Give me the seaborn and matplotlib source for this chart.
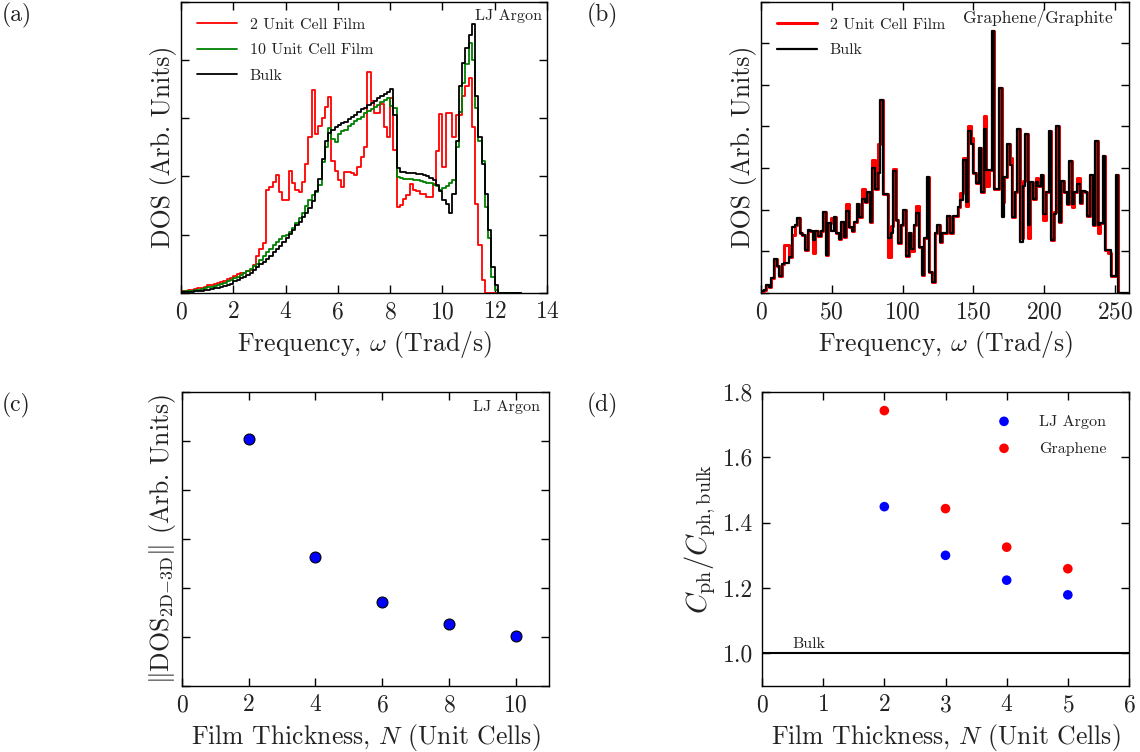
import numpy as np
import pandas as pd
import matplotlib
matplotlib.use("Agg")
import matplotlib.pyplot as plt
import seaborn as sns

# ---------------- data ----------------
# (a) LJ argon DOS, bin width 0.125 Trad/s starting at 0
argon_bin_width = 0.125
argon_film2 = [0.03, 0.04, 0.05, 0.06, 0.07, 0.08, 0.09, 0.11, 0.13, 0.14,
               0.15, 0.17, 0.19, 0.21, 0.24, 0.25, 0.30, 0.33, 0.34, 0.35,
               0.37, 0.40, 0.48, 0.63, 0.75, 0.85, 1.76, 1.81, 1.90, 2.03,
               1.73, 1.59, 1.59, 2.10, 1.89, 1.77, 1.73, 1.90, 2.22, 2.67,
               3.49, 2.73, 2.87, 3.01, 3.19, 3.36, 2.27, 2.09, 1.93, 1.82,
               2.07, 2.07, 2.05, 2.02, 2.16, 2.33, 2.50, 3.79, 3.29, 3.09,
               3.09, 3.25, 2.84, 2.67, 3.35, 2.45, 1.48, 1.51, 1.62, 1.68,
               1.87, 1.77, 1.75, 1.70, 1.70, 1.65, 1.65, 1.87, 2.44, 3.07,
               2.16, 3.09, 3.09, 2.67, 3.05, 3.05, 3.38, 3.55, 3.69, 2.84,
               1.53, 0.82, 0.23, 0.00, 0.00, 0.00, 0.00]
argon_film10 = [0.02, 0.03, 0.03, 0.04, 0.05, 0.06, 0.07, 0.08, 0.10, 0.11,
                0.12, 0.14, 0.16, 0.18, 0.20, 0.22, 0.25, 0.28, 0.31, 0.34,
                0.38, 0.42, 0.46, 0.50, 0.56, 0.63, 0.70, 0.76, 0.82, 0.88,
                0.93, 0.97, 1.00, 1.05, 1.12, 1.20, 1.28, 1.38, 1.50, 1.60,
                1.68, 1.73, 1.85, 2.25, 2.50, 2.83, 2.64, 2.59, 2.72, 2.78,
                2.80, 2.86, 2.90, 2.95, 2.98, 3.02, 3.08, 3.12, 3.16, 3.19,
                3.23, 3.27, 3.31, 3.35, 3.20, 3.18, 1.99, 1.97, 1.96, 1.95,
                1.95, 1.94, 1.93, 1.92, 1.90, 1.89, 1.88, 1.86, 1.83, 1.76,
                1.80, 1.84, 1.88, 1.93, 2.50, 3.10, 3.61, 3.92, 4.29, 4.00,
                3.18, 2.61, 2.27, 1.48, 0.94, 0.28, 0.06]
argon_bulk = [0.01, 0.01, 0.02, 0.02, 0.03, 0.04, 0.04, 0.05, 0.06, 0.07,
              0.08, 0.09, 0.10, 0.12, 0.13, 0.15, 0.20, 0.23, 0.26, 0.28,
              0.31, 0.35, 0.40, 0.45, 0.49, 0.54, 0.59, 0.63, 0.70, 0.76,
              0.81, 0.87, 0.94, 1.01, 1.08, 1.16, 1.22, 1.30, 1.38, 1.46,
              1.58, 1.75, 1.95, 2.30, 2.60, 2.75, 2.79, 2.84, 2.88, 2.91,
              2.94, 2.98, 3.02, 3.06, 3.10, 3.15, 3.18, 3.22, 3.26, 3.30,
              3.34, 3.38, 3.42, 3.45, 3.50, 3.05, 2.15, 2.07, 2.07, 2.06,
              2.06, 2.05, 2.04, 2.04, 2.02, 2.00, 1.97, 1.93, 1.86, 1.75,
              1.60, 1.52, 1.38, 1.70, 2.60, 3.55, 3.95, 4.20, 4.43, 4.62,
              3.38, 2.67, 2.22, 1.70, 1.08, 0.45, 0.14]
argon_freq_max = 13.0

# (b) graphene / graphite DOS, bin width 1.83 Trad/s starting at 0
graphene_bin_width = 1.83
graphene_bulk = [0.05, 0.08, 0.20, 0.15, 0.36, 0.81, 0.64, 0.42, 0.69, 0.71,
                 0.71, 0.87, 1.59, 1.63, 1.79, 1.43, 1.40, 1.03, 1.52, 1.50,
                 1.27, 1.50, 1.36, 1.50, 1.94, 0.91, 1.67, 1.50, 1.82, 1.43,
                 1.30, 1.70, 1.34, 1.98, 1.59, 1.50, 1.70, 2.13, 1.82, 2.26,
                 2.18, 2.42, 1.70, 3.01, 2.50, 2.89, 4.64, 2.38, 2.38, 1.31,
                 1.43, 2.94, 1.75, 1.21, 1.64, 2.00, 0.90, 1.43, 1.06, 1.64,
                 1.92, 1.10, 0.43, 1.31, 2.78, 0.51, 0.27, 1.44, 1.63, 1.23,
                 1.43, 1.43, 1.84, 1.44, 1.84, 1.84, 2.06, 2.24, 3.19, 2.19,
                 3.89, 3.57, 2.87, 2.65, 3.49, 2.42, 3.93, 2.96, 2.96, 6.29,
                 2.50, 2.50, 4.92, 1.83, 2.78, 3.57, 3.08, 1.83, 2.42, 3.93,
                 1.23, 2.56, 3.81, 1.64, 2.67, 2.26, 2.67, 2.56, 2.84, 1.90,
                 2.42, 3.89, 1.27, 1.90, 4.00, 1.70, 2.70, 2.42, 2.13, 3.17,
                 2.13, 2.42, 2.62, 2.15, 2.46, 2.42, 1.84, 2.84, 1.63, 3.65,
                 1.63, 1.67, 3.29, 1.03, 1.03, 0.40, 0.40, 2.84, 0.00, 0.00,
                 0.00, 0.00, 0.00]
graphene_film2 = [0.05, 0.08, 0.20, 0.15, 0.36, 0.81, 0.64, 0.42, 0.69, 1.15,
                  1.15, 0.87, 1.40, 1.63, 1.79, 1.43, 1.40, 1.03, 1.52, 1.50,
                  0.95, 1.50, 1.36, 1.50, 1.94, 0.91, 1.67, 1.79, 1.82, 1.43,
                  1.30, 1.70, 1.34, 2.14, 1.59, 1.50, 1.70, 2.13, 1.82, 2.49,
                  2.18, 2.42, 1.70, 3.19, 2.50, 3.57, 4.64, 2.38, 2.38, 0.87,
                  1.60, 2.98, 1.75, 1.21, 1.64, 2.00, 0.90, 1.43, 1.00, 1.64,
                  2.08, 1.10, 0.43, 1.31, 2.78, 0.51, 0.27, 1.44, 1.63, 1.23,
                  1.43, 1.43, 1.84, 1.44, 1.84, 1.84, 2.06, 2.40, 3.25, 2.10,
                  4.00, 3.73, 2.87, 2.65, 3.49, 2.42, 4.25, 2.58, 2.96, 6.29,
                  2.50, 2.50, 4.92, 2.18, 2.78, 3.57, 3.24, 1.83, 2.42, 3.93,
                  1.31, 2.70, 3.81, 1.31, 2.67, 2.26, 2.76, 2.56, 2.84, 1.75,
                  2.42, 3.89, 1.27, 1.94, 4.00, 1.70, 2.70, 2.42, 2.13, 3.17,
                  2.06, 2.42, 2.76, 2.15, 2.46, 2.42, 1.84, 2.84, 1.63, 3.65,
                  1.43, 1.67, 3.29, 1.03, 0.95, 0.40, 0.40, 2.84, 0.00, 0.00,
                  0.00, 0.00, 0.00]

# (c) norm of the 2D-3D DOS difference against film thickness
norm_thickness = [2, 4, 6, 8, 10]
norm_dos_diff = [5.04, 2.63, 1.72, 1.27, 1.02]

# (d) phonon heat capacity relative to bulk
cph_thickness = [2, 3, 4, 5]
cph_argon = [1.449, 1.300, 1.224, 1.179]
cph_graphene = [1.743, 1.443, 1.325, 1.259]

# ---------------- style ----------------
sns.set_style("ticks", {"xtick.direction": "in", "ytick.direction": "in"})
TEXT_C = "#222222"
plt.rcParams.update({
    "font.family": ["cmr10", "DejaVu Serif"],
    "mathtext.fontset": "cm",
    "axes.formatter.use_mathtext": True,
    "axes.unicode_minus": False,
    "axes.edgecolor": "black",
    "axes.linewidth": 1.0,
    "text.color": TEXT_C,
    "axes.labelcolor": TEXT_C,
    "xtick.color": "black",
    "ytick.color": "black",
    "xtick.labelcolor": TEXT_C,
    "ytick.labelcolor": TEXT_C,
})

LABEL_FS = 18.5
TICK_FS = 17
SMALL_FS = 11.5

fig = plt.figure(figsize=(11.4, 7.52), dpi=100)
W, H = 1140.0, 752.0


def axes_px(left, top, right, bottom):
    return fig.add_axes([left / W, 1 - bottom / H, (right - left) / W, (bottom - top) / H])


ax_a = axes_px(181, 1.5, 547, 293)
ax_b = axes_px(761, 1.5, 1129, 293)
ax_c = axes_px(182, 392, 549, 686)
ax_d = axes_px(762, 392, 1129, 686)


def style_axes(ax, label_left=True):
    ax.tick_params(which="major", direction="in", top=True, right=True,
                   length=6, width=1, labelsize=TICK_FS, pad=6,
                   labelleft=label_left)
    for s in ax.spines.values():
        s.set_visible(True)
        s.set_color("black")
        s.set_linewidth(1.0)


def dos_steps(ax, values, width, color, lw, label, n_bins=None):
    vals = np.asarray(values, dtype=float)
    if n_bins is not None and n_bins > len(vals):
        vals = np.concatenate([vals, np.zeros(n_bins - len(vals))])
    edges = np.arange(len(vals) + 1) * width
    df = pd.DataFrame({"freq": edges[:-1] + width / 2, "dos": vals})
    sns.histplot(data=df, x="freq", weights="dos", bins=edges.tolist(),
                 element="step", fill=False, color=color, linewidth=lw, ax=ax)
    line = ax.lines[-1]
    line.set_label(label)
    return line


# ---------------- (a) LJ argon DOS ----------------
n_arg = int(round(argon_freq_max / argon_bin_width))
h1 = dos_steps(ax_a, argon_film2, argon_bin_width, "#ff0000", 1.3, "2 Unit Cell Film", n_arg)
h2 = dos_steps(ax_a, argon_film10, argon_bin_width, "#008000", 1.3, "10 Unit Cell Film", n_arg)
h3 = dos_steps(ax_a, argon_bulk, argon_bin_width, "black", 1.3, "Bulk", n_arg)
ax_a.set_xlim(0, 14)
ax_a.set_ylim(0, 5)
ax_a.set_xticks(np.arange(0, 15, 2))
ax_a.set_yticks(np.arange(0, 6))
style_axes(ax_a, label_left=False)
ax_a.set_xlabel(r"Frequency, $\omega$ (Trad/s)", fontsize=LABEL_FS, labelpad=4)
ax_a.set_ylabel("DOS (Arb. Units)", fontsize=LABEL_FS, labelpad=3)
ax_a.legend(handles=[h1, h2, h3], loc="upper left", frameon=False,
            fontsize=SMALL_FS, handlelength=2.5, handletextpad=0.8,
            labelspacing=0.72, borderaxespad=0.6)
ax_a.text(0.985, 0.975, "LJ Argon", transform=ax_a.transAxes,
          ha="right", va="top", fontsize=SMALL_FS)

# ---------------- (b) graphene DOS ----------------
g1 = dos_steps(ax_b, graphene_film2, graphene_bin_width, "#ff0000", 2.2, "2 Unit Cell Film")
g2 = dos_steps(ax_b, graphene_bulk, graphene_bin_width, "black", 1.6, "Bulk")
ax_b.set_xlim(0, 260)
ax_b.set_ylim(0, 7)
ax_b.set_xticks(np.arange(0, 260, 50))
ax_b.set_yticks(np.arange(0, 8))
style_axes(ax_b, label_left=False)
ax_b.set_xlabel(r"Frequency, $\omega$ (Trad/s)", fontsize=LABEL_FS, labelpad=4)
ax_b.set_ylabel("DOS (Arb. Units)", fontsize=LABEL_FS, labelpad=3)
ax_b.legend(handles=[g1, g2], loc="upper left", frameon=False,
            fontsize=SMALL_FS, handlelength=2.5, handletextpad=0.8,
            labelspacing=0.72, borderaxespad=0.6)
ax_b.text(0.957, 0.975, "Graphene/Graphite", transform=ax_b.transAxes,
          ha="right", va="top", fontsize=12.5)

# ---------------- (c) DOS difference norm ----------------
sns.scatterplot(x=norm_thickness, y=norm_dos_diff, color="#0000ff",
                edgecolor="black", linewidth=0.8, s=62, ax=ax_c, zorder=3)
ax_c.set_xlim(0, 11)
ax_c.set_ylim(0, 6)
ax_c.set_xticks(np.arange(0, 11, 2))
ax_c.set_yticks(np.arange(0, 7))
style_axes(ax_c, label_left=False)
ax_c.set_xlabel(r"Film Thickness, $N$ (Unit Cells)", fontsize=LABEL_FS, labelpad=4)
ax_c.set_ylabel(r"$\Vert\mathrm{DOS}_{\mathrm{2D}{-}\mathrm{3D}}\Vert$ (Arb. Units)",
                fontsize=LABEL_FS, labelpad=3)
ax_c.text(0.975, 0.973, "LJ Argon", transform=ax_c.transAxes,
          ha="right", va="top", fontsize=SMALL_FS)

# ---------------- (d) heat capacity ratio ----------------
ax_d.axhline(1.0, color="black", linewidth=1.5, zorder=2)
sns.scatterplot(x=cph_thickness, y=cph_argon, color="#0000ff", edgecolor="none",
                s=48, ax=ax_d, label="LJ Argon", zorder=3)
sns.scatterplot(x=cph_thickness, y=cph_graphene, color="#ff0000", edgecolor="none",
                s=48, ax=ax_d, label="Graphene", zorder=3)
ax_d.set_xlim(0, 6)
ax_d.set_ylim(0.9, 1.8)
ax_d.set_xticks(np.arange(0, 7))
ax_d.set_yticks([1.0, 1.2, 1.4, 1.6, 1.8])
ax_d.yaxis.set_major_formatter(matplotlib.ticker.FormatStrFormatter("%.1f"))
style_axes(ax_d, label_left=True)
ax_d.set_xlabel(r"Film Thickness, $N$ (Unit Cells)", fontsize=LABEL_FS, labelpad=4)
ax_d.set_ylabel(r"$C_{\mathrm{ph}}/C_{\mathrm{ph,bulk}}$", fontsize=LABEL_FS + 2, labelpad=4)
ax_d.text(0.5, 1.006, "Bulk", fontsize=SMALL_FS, va="bottom", ha="left")
ax_d.legend(loc="upper right", frameon=False, fontsize=SMALL_FS,
            handletextpad=1.2, labelspacing=0.8, borderaxespad=1.0,
            scatterpoints=1)

# ---------------- panel letters ----------------
for letter, x, y in [("(a)", 2, 15), ("(b)", 587, 15), ("(c)", 2, 405), ("(d)", 587, 405)]:
    fig.text(x / W, 1 - y / H, letter, fontsize=17, ha="left", va="center")

fig.savefig("out.png", dpi=100)
